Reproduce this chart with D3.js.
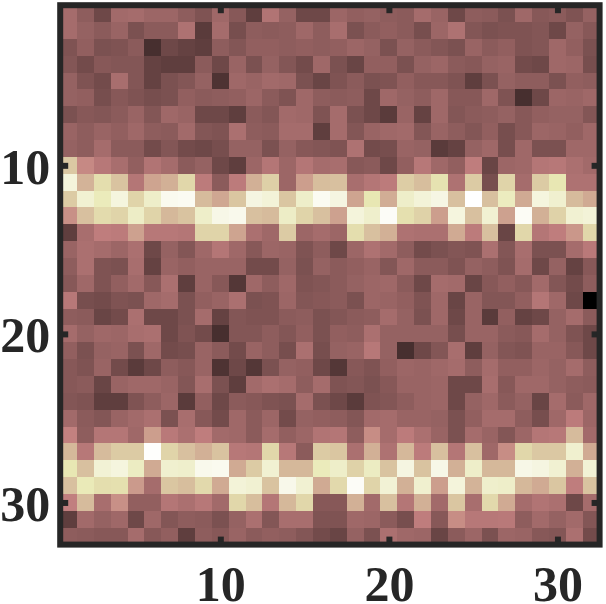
<!DOCTYPE html>
<html>
<head>
<meta charset="utf-8">
<style>
  html, body { margin: 0; padding: 0; background: #fff; }
  svg { display: block; }
  text { font-family: "Liberation Serif", serif; font-weight: bold; font-size: 50px; fill: #262626; }
</style>
<script src="https://cdnjs.cloudflare.com/ajax/libs/d3/7.8.5/d3.min.js"></script>
</head>
<body>
<div id="chart"></div>
<script>
// colormap position of every cell, 0-100, one list per image row
const grid = [
  [27,20,12,26,27,24,24,20,16,25,18,9,31,22,12,12,24,21,22,20,19,27,23,12,20,19,15,25,18,19,16,22],
  [27,22,19,23,15,19,19,30,8,27,14,20,19,20,25,20,28,15,19,21,19,14,24,30,17,15,16,16,17,12,22,18],
  [16,21,15,16,19,5,12,10,9,20,17,21,21,20,21,20,21,24,22,15,22,19,17,15,23,19,21,16,17,25,21,15],
  [17,13,18,17,17,10,9,9,19,12,23,15,22,17,13,25,15,11,21,21,15,22,24,19,18,22,23,13,12,25,24,14],
  [22,16,13,28,17,10,15,17,22,6,25,23,26,25,15,11,16,19,15,16,21,18,18,16,9,15,22,20,20,15,21,20],
  [22,21,14,18,16,14,15,21,19,20,21,24,19,16,25,20,19,20,12,25,22,20,25,18,18,25,16,5,12,24,23,25],
  [15,18,17,19,23,17,25,23,12,12,9,19,17,26,25,16,27,15,12,8,23,10,25,17,19,20,22,18,21,22,22,17],
  [23,20,23,21,25,20,19,26,17,16,29,20,19,27,27,9,27,17,23,25,26,17,23,20,17,21,14,18,24,23,21,25],
  [22,20,27,19,19,13,17,13,12,14,22,22,15,22,18,17,16,30,13,14,23,22,8,10,22,25,14,25,15,15,25,25],
  [61,40,33,28,21,31,27,19,22,12,9,24,32,24,32,27,28,18,19,12,21,33,25,21,36,11,24,25,32,33,29,26],
  [87,53,70,59,32,48,52,67,35,19,35,52,64,24,46,57,58,28,32,35,63,57,72,30,62,14,66,27,62,74,30,30],
  [62,84,77,88,66,81,94,95,56,49,60,89,86,60,81,95,89,48,74,51,81,86,90,58,100,58,78,50,88,83,56,50],
  [42,58,69,66,80,66,55,59,81,91,93,58,56,80,66,58,47,87,82,97,71,65,46,88,58,84,47,96,52,65,84,86],
  [9,28,36,35,47,33,33,32,66,66,48,29,25,62,24,27,24,70,58,52,30,29,29,50,35,58,11,67,32,36,44,67],
  [23,29,27,24,29,12,22,17,25,32,25,18,24,23,16,20,12,24,30,26,20,13,15,17,16,29,17,28,15,15,27,34],
  [20,29,16,15,28,10,23,21,23,23,23,13,13,22,15,22,19,21,23,17,25,19,19,16,22,20,16,27,12,22,10,18],
  [18,25,16,21,26,18,29,9,23,18,7,25,20,25,16,17,19,22,24,25,19,12,27,26,11,18,21,18,26,17,13,20],
  [33,14,13,16,15,25,27,15,21,23,29,15,16,24,17,18,19,15,24,23,21,16,25,11,23,17,17,21,32,25,12,0],
  [20,19,11,13,29,12,12,15,27,10,17,16,16,19,20,15,17,19,20,27,22,15,25,12,23,8,21,10,12,22,27,19],
  [27,22,25,24,28,29,12,16,13,5,17,17,20,17,21,15,21,20,29,22,22,22,22,14,23,23,19,18,27,22,16,12],
  [21,15,22,23,15,25,13,14,23,19,13,23,20,14,29,14,22,23,33,22,5,12,17,28,9,22,17,16,23,23,18,12],
  [18,16,23,13,8,12,20,18,23,6,12,7,15,22,21,12,7,18,16,21,24,23,25,27,20,27,21,21,24,22,27,20],
  [18,19,11,23,25,25,23,17,28,15,9,26,29,27,20,27,16,17,15,18,23,23,24,12,12,28,18,25,25,22,20,19],
  [17,16,9,9,16,20,24,8,21,12,19,18,16,15,27,15,12,8,16,17,20,23,24,12,22,25,19,22,11,27,19,25],
  [26,19,17,23,26,29,15,28,18,13,25,19,24,13,22,21,20,17,26,27,23,23,22,15,21,27,27,20,14,25,35,24],
  [38,20,32,32,25,46,34,29,36,26,25,19,27,21,24,31,32,20,41,27,35,29,23,15,27,23,17,24,32,33,56,26],
  [55,33,56,62,62,99,66,58,52,59,33,32,67,33,19,62,60,29,52,30,55,35,58,32,58,25,41,67,61,61,83,50],
  [74,58,85,88,79,50,83,82,93,94,50,62,84,55,55,77,81,65,79,59,89,59,91,52,81,55,55,91,89,84,52,85],
  [58,76,70,71,45,27,60,57,68,50,86,84,59,92,84,50,68,97,66,85,52,83,46,87,53,82,81,55,50,60,36,59],
  [37,56,28,42,21,21,32,29,33,26,67,57,32,55,67,18,18,52,26,58,32,52,26,60,28,68,50,27,31,29,12,27],
  [9,26,22,25,12,25,17,20,19,15,22,29,17,28,28,16,16,25,24,19,14,36,18,41,33,33,34,20,26,22,26,17],
  [20,19,18,18,27,18,21,9,20,18,23,19,21,20,17,13,11,22,15,29,25,24,11,19,24,15,24,23,18,17,29,13]
];
const tickValues = [10, 20, 30];

const width = 606;
const height = 604;

// MATLAB pink: sqrt((2*gray + hot)/3)
function pink(t) {
  const clamp = (v) => Math.max(0, Math.min(1, v));
  const r = clamp(t / 0.375);
  const g = clamp((t - 0.375) / 0.375);
  const b = clamp((t - 0.75) / 0.25);
  const ch = (h) => Math.round(255 * Math.sqrt((2 * t + h) / 3));
  return `rgb(${ch(r)},${ch(g)},${ch(b)})`;
}

const x = d3.scaleLinear().domain([0.5, 32.5]).range([60.2, 599.6]);
const y = d3.scaleLinear().domain([0.5, 32.5]).range([5.2, 544.6]);
const color = d3.scaleSequential(pink).domain([0, 100]);

const svg = d3
  .select("#chart")
  .append("svg")
  .attr("width", width)
  .attr("height", height);

const cells = grid.flatMap((row, i) =>
  row.map((v, j) => ({ col: j + 1, row: i + 1, v }))
);

svg
  .selectAll(".cell")
  .data(cells)
  .join("rect")
  .attr("class", "cell")
  .attr("x", (d) => x(d.col - 0.5))
  .attr("y", (d) => y(d.row - 0.5))
  .attr("width", (d) => x(d.col + 0.5) - x(d.col - 0.5))
  .attr("height", (d) => y(d.row + 0.5) - y(d.row - 0.5))
  .attr("shape-rendering", "crispEdges")
  .attr("fill", (d) => color(d.v));

function styleAxis(g) {
  g.select(".domain").remove();
  g.selectAll("line").attr("stroke", "#262626").attr("stroke-width", 6);
  g.selectAll("text").attr("fill", "#262626").attr("font-size", null).attr("font-family", null);
}

const tickLen = 8;

svg
  .append("g")
  .attr("transform", `translate(0,${y.range()[1]})`)
  .call(d3.axisBottom(x).tickValues(tickValues).tickSize(-tickLen).tickPadding(tickLen + 13))
  .call(styleAxis);
svg
  .append("g")
  .attr("transform", `translate(0,${y.range()[0]})`)
  .call(d3.axisTop(x).tickValues(tickValues).tickSize(-tickLen).tickFormat(""))
  .call(styleAxis);
svg
  .append("g")
  .attr("transform", `translate(${x.range()[0]},0)`)
  .call(d3.axisLeft(y).tickValues(tickValues).tickSize(-tickLen).tickPadding(10))
  .call(styleAxis)
  .call((g) => g.selectAll("text").attr("dy", "0.36em"));
svg
  .append("g")
  .attr("transform", `translate(${x.range()[1]},0)`)
  .call(d3.axisRight(y).tickValues(tickValues).tickSize(-tickLen).tickFormat(""))
  .call(styleAxis);

// box round the image
svg
  .append("rect")
  .attr("x", x.range()[0])
  .attr("y", y.range()[0])
  .attr("width", x.range()[1] - x.range()[0])
  .attr("height", y.range()[1] - y.range()[0])
  .attr("fill", "none")
  .attr("stroke", "#262626")
  .attr("stroke-width", 6);
</script>
</body>
</html>
